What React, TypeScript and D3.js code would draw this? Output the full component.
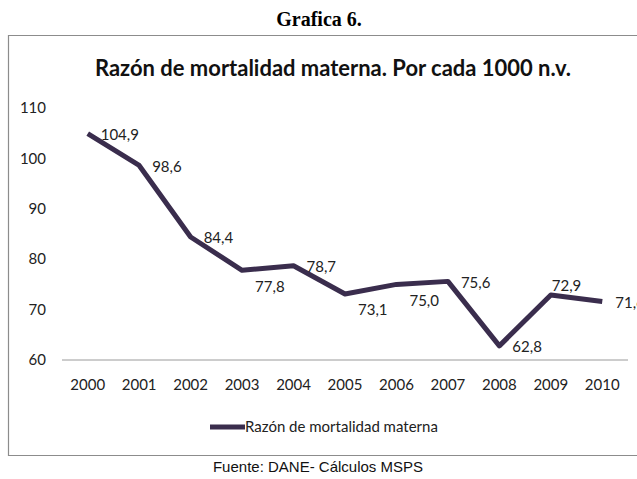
import React, { useEffect, useRef } from "react";
import * as d3 from "d3";

const years = ["2000", "2001", "2002", "2003", "2004", "2005", "2006", "2007", "2008", "2009", "2010"];
const values = [104.9, 98.6, 84.4, 77.8, 78.7, 73.1, 75.0, 75.6, 62.8, 72.9, 71.6];
// where Excel put each data label
const labelPlace = ["right", "right", "right", "below", "right", "below", "below", "right", "right", "above", "right"];
const yTicks = [60, 70, 80, 90, 100, 110];

const seriesName = "Razón de mortalidad materna";
const chartTitle = "Razón de mortalidad materna. Por cada 1000 n.v.";

const App: React.FC = () => {
	const svgRef = useRef<SVGSVGElement>(null);

	useEffect(() => {
		if (!svgRef.current) return;
		const svg = d3.select(svgRef.current);
		svg.selectAll("*").remove();

		const W = 637;
		const H = 479;
		const font = "Lato, 'Open Sans', sans-serif";
		const lineColor = "#3a2d4d";

		svg.append("rect").attr("width", W).attr("height", H).attr("fill", "#fff");

		svg.append("text")
			.attr("x", 319)
			.attr("y", 26)
			.attr("text-anchor", "middle")
			.attr("font-family", "'Liberation Serif', 'Times New Roman', serif")
			.attr("font-weight", "bold")
			.attr("font-size", 20)
			.text("Grafica 6.");

		// chart frame, right side runs off the image
		svg.append("path")
			.attr("d", `M${W + 5},35.5H8.5V455.5H${W + 5}`)
			.attr("fill", "none")
			.attr("stroke", "#8c8c8c")
			.attr("stroke-width", 1.2);

		svg.append("text")
			.attr("x", 333)
			.attr("y", 76)
			.attr("text-anchor", "middle")
			.attr("font-family", font)
			.attr("font-weight", "bold")
			.attr("font-size", 23)
			.attr("fill", "#111")
			.attr("textLength", 476)
			.attr("lengthAdjust", "spacingAndGlyphs")
			.text(chartTitle);

		const x = d3.scaleBand().domain(years).range([62, 628]);
		const y = d3.scaleLinear().domain([60, 110]).range([360, 108]);

		svg.append("line")
			.attr("x1", 62)
			.attr("x2", 628)
			.attr("y1", y(60))
			.attr("y2", y(60))
			.attr("stroke", "#9a9a9a")
			.attr("stroke-width", 1);

		svg.append("g")
			.selectAll("text")
			.data(yTicks)
			.join("text")
			.attr("x", 46)
			.attr("y", (d) => y(d))
			.attr("dy", "0.35em")
			.attr("text-anchor", "end")
			.attr("font-family", font)
			.attr("font-size", 15)
			.attr("fill", "#222")
			.text((d) => d);

		svg.append("g")
			.selectAll("text")
			.data(years)
			.join("text")
			.attr("x", (d) => (x(d) || 0) + x.bandwidth() / 2)
			.attr("y", 385)
			.attr("dy", "0.35em")
			.attr("text-anchor", "middle")
			.attr("font-family", font)
			.attr("font-size", 15)
			.attr("fill", "#222")
			.text((d) => d);

		const pts = years.map((yr, i) => ({ yr, v: values[i], place: labelPlace[i] }));
		const line = d3
			.line<{ yr: string; v: number }>()
			.x((d) => (x(d.yr) || 0) + x.bandwidth() / 2)
			.y((d) => y(d.v));

		svg.append("path")
			.datum(pts)
			.attr("d", line)
			.attr("fill", "none")
			.attr("stroke", lineColor)
			.attr("stroke-width", 5)
			.attr("stroke-linejoin", "round");

		svg.append("g")
			.selectAll("text")
			.data(pts)
			.join("text")
			.attr("x", (d) => (x(d.yr) || 0) + x.bandwidth() / 2 + (d.place === "above" ? 1 : 13))
			.attr("y", (d) => y(d.v) + (d.place === "below" ? 16 : d.place === "above" ? -9 : 1))
			.attr("dy", "0.35em")
			.attr("font-family", font)
			.attr("font-size", 15)
			.attr("fill", "#222")
			.text((d) => d.v.toFixed(1).replace(".", ","));

		// legend
		svg.append("line")
			.attr("x1", 210)
			.attr("x2", 245)
			.attr("y1", 427)
			.attr("y2", 427)
			.attr("stroke", lineColor)
			.attr("stroke-width", 5);

		svg.append("text")
			.attr("x", 245)
			.attr("y", 427)
			.attr("dy", "0.35em")
			.attr("font-family", font)
			.attr("font-size", 15)
			.attr("fill", "#222")
			.text(seriesName);

		svg.append("text")
			.attr("x", 318)
			.attr("y", 472)
			.attr("text-anchor", "middle")
			.attr("font-family", "'Liberation Sans', Arial, sans-serif")
			.attr("font-size", 15)
			.attr("fill", "#111")
			.text("Fuente: DANE- Cálculos MSPS");
	}, []);

	return (
		<svg
			ref={svgRef}
			width={637}
			height={479}
			style={{ position: "absolute", left: 0, top: 0, display: "block" }}
		/>
	);
};

export default App;
